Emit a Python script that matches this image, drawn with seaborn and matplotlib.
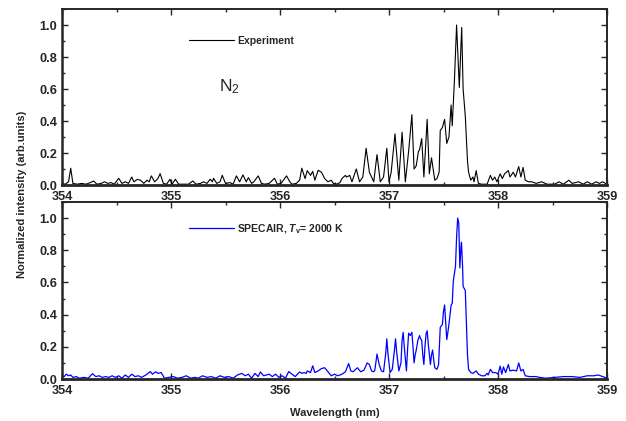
import matplotlib
matplotlib.use("Agg")
import matplotlib.pyplot as plt
import seaborn as sns
from matplotlib.ticker import MultipleLocator, FormatStrFormatter

# ---------------- data ----------------
wl_exp = [354.00, 354.03, 354.06, 354.08, 354.10, 354.14, 354.18, 354.22, 354.26, 354.29,
          354.32, 354.36, 354.39, 354.42, 354.45, 354.48, 354.52, 354.55, 354.58, 354.61,
          354.64, 354.66, 354.69, 354.72, 354.75, 354.78, 354.80, 354.82, 354.85, 354.88,
          354.90, 354.93, 354.96, 354.99, 355.01, 355.04, 355.07, 355.12, 355.16, 355.20,
          355.23, 355.27, 355.30, 355.33, 355.36, 355.38, 355.39, 355.42, 355.45, 355.47,
          355.50, 355.54, 355.57, 355.60, 355.63, 355.66, 355.69, 355.71, 355.74, 355.76,
          355.80, 355.83, 355.86, 355.90, 355.95, 355.975, 356.01, 356.06, 356.09, 356.11,
          356.15, 356.18, 356.20, 356.23, 356.25, 356.28, 356.30, 356.32, 356.35, 356.38,
          356.41, 356.44, 356.47, 356.49, 356.52, 356.55, 356.57, 356.60, 356.61, 356.64,
          356.66, 356.70, 356.73, 356.76, 356.79, 356.82, 356.84, 356.86, 356.89, 356.92,
          356.95, 356.98, 357.00, 357.02, 357.055, 357.09, 357.12, 357.15, 357.18, 357.21,
          357.23, 357.25, 357.27, 357.28, 357.30, 357.32, 357.35, 357.37, 357.39, 357.42,
          357.44, 357.46, 357.47, 357.49, 357.51, 357.53, 357.55, 357.57, 357.58, 357.60,
          357.62, 357.645, 357.667, 357.68, 357.70, 357.72, 357.73, 357.75, 357.77, 357.78,
          357.80, 357.82, 357.85, 357.90, 357.93, 357.95, 357.97, 357.99, 358.02, 358.04,
          358.06, 358.095, 358.11, 358.14, 358.16, 358.19, 358.21, 358.23, 358.25, 358.28,
          358.31, 358.35, 358.40, 358.45, 358.52, 358.56, 358.60, 358.65, 358.68, 358.74,
          358.78, 358.82, 358.86, 358.90, 358.93, 358.96, 359.00]
int_exp = [0.010, 0.005, 0.020, 0.105, 0.010, 0.005, 0.010, 0.005, 0.015, 0.025,
           0.005, 0.010, 0.020, 0.010, 0.015, 0.005, 0.042, 0.010, 0.020, 0.010,
           0.050, 0.020, 0.035, 0.030, 0.010, 0.030, 0.020, 0.057, 0.020, 0.040,
           0.071, 0.010, 0.005, 0.036, 0.005, 0.036, 0.005, 0.005, 0.005, 0.025,
           0.005, 0.010, 0.020, 0.010, 0.036, 0.020, 0.042, 0.010, 0.020, 0.061,
           0.010, 0.015, 0.005, 0.057, 0.020, 0.063, 0.020, 0.046, 0.010, 0.020,
           0.057, 0.010, 0.005, 0.010, 0.042, 0.005, 0.010, 0.057, 0.020, 0.005,
           0.010, 0.030, 0.105, 0.040, 0.090, 0.060, 0.085, 0.030, 0.092, 0.080,
           0.040, 0.020, 0.030, 0.010, 0.005, 0.015, 0.042, 0.060, 0.050, 0.060,
           0.020, 0.100, 0.020, 0.050, 0.230, 0.080, 0.050, 0.020, 0.190, 0.020,
           0.050, 0.230, 0.020, 0.080, 0.320, 0.030, 0.330, 0.020, 0.210, 0.440,
           0.100, 0.120, 0.210, 0.220, 0.290, 0.050, 0.410, 0.070, 0.170, 0.030,
           0.040, 0.080, 0.340, 0.360, 0.410, 0.260, 0.300, 0.500, 0.370, 0.650,
           1.000, 0.610, 0.985, 0.600, 0.430, 0.150, 0.080, 0.030, 0.050, 0.020,
           0.090, 0.010, 0.005, 0.005, 0.060, 0.030, 0.050, 0.020, 0.070, 0.040,
           0.070, 0.090, 0.050, 0.080, 0.050, 0.115, 0.050, 0.110, 0.030, 0.020,
           0.020, 0.010, 0.020, 0.005, 0.005, 0.020, 0.005, 0.030, 0.010, 0.020,
           0.005, 0.020, 0.005, 0.020, 0.010, 0.020, 0.005]

wl_sim = [354.00, 354.02, 354.04, 354.06, 354.08, 354.10, 354.13, 354.16, 354.20, 354.24,
          354.28, 354.31, 354.34, 354.37, 354.40, 354.43, 354.46, 354.49, 354.52, 354.55,
          354.58, 354.61, 354.64, 354.67, 354.70, 354.73, 354.77, 354.81, 354.83, 354.86,
          354.88, 354.91, 354.94, 354.98, 355.02, 355.06, 355.10, 355.14, 355.18, 355.22,
          355.25, 355.29, 355.33, 355.37, 355.41, 355.45, 355.49, 355.53, 355.57, 355.61,
          355.65, 355.68, 355.71, 355.74, 355.77, 355.80, 355.82, 355.85, 355.90, 355.93,
          355.96, 355.99, 356.02, 356.05, 356.08, 356.11, 356.14, 356.18, 356.20, 356.22,
          356.24, 356.25, 356.28, 356.30, 356.32, 356.35, 356.38, 356.41, 356.44, 356.47,
          356.50, 356.53, 356.57, 356.60, 356.63, 356.65, 356.67, 356.71, 356.74, 356.77,
          356.80, 356.82, 356.84, 356.86, 356.87, 356.89, 356.91, 356.93,
          356.95, 356.97, 356.98, 356.99, 357.01, 357.03, 357.05, 357.06, 357.07, 357.09,
          357.11, 357.12, 357.13, 357.14, 357.16, 357.17, 357.18, 357.195, 357.21, 357.22,
          357.23, 357.24, 357.25, 357.265, 357.28, 357.29, 357.30, 357.31, 357.32, 357.33,
          357.34, 357.35, 357.36, 357.38, 357.39, 357.40, 357.41, 357.42, 357.44, 357.455,
          357.465, 357.47, 357.49, 357.50, 357.51, 357.52, 357.53, 357.54, 357.55, 357.57,
          357.58, 357.59, 357.61, 357.62, 357.63, 357.64, 357.65, 357.66, 357.665, 357.675,
          357.68, 357.70, 357.71, 357.72, 357.73, 357.75, 357.77, 357.80, 357.82,
          357.85, 357.88, 357.90, 357.91, 357.93, 357.95, 357.98, 358.00, 358.02, 358.035,
          358.05, 358.07, 358.095, 358.11, 358.14, 358.17, 358.19, 358.21, 358.23, 358.25,
          358.29, 358.35, 358.38, 358.44, 358.52, 358.60, 358.68, 358.75, 358.82, 358.88,
          358.92, 358.96, 359.00]
int_sim = [0.020, 0.015, 0.030, 0.020, 0.025, 0.010, 0.015, 0.005, 0.010, 0.005,
           0.033, 0.015, 0.020, 0.010, 0.015, 0.010, 0.020, 0.010, 0.020, 0.005,
           0.025, 0.010, 0.030, 0.015, 0.020, 0.010, 0.025, 0.046, 0.030, 0.045,
           0.035, 0.040, 0.005, 0.010, 0.015, 0.005, 0.010, 0.020, 0.005, 0.010,
           0.005, 0.020, 0.010, 0.015, 0.005, 0.020, 0.010, 0.015, 0.005, 0.025,
           0.035, 0.020, 0.030, 0.005, 0.035, 0.015, 0.044, 0.020, 0.030, 0.015,
           0.030, 0.010, 0.020, 0.005, 0.046, 0.030, 0.015, 0.044, 0.035, 0.040,
           0.035, 0.050, 0.040, 0.082, 0.040, 0.050, 0.065, 0.070, 0.045, 0.020,
           0.030, 0.020, 0.030, 0.045, 0.096, 0.050, 0.045, 0.070, 0.045, 0.055,
           0.100, 0.090, 0.050, 0.045, 0.055, 0.155, 0.090, 0.050,
           0.045, 0.160, 0.250, 0.160, 0.040, 0.060, 0.180, 0.250, 0.170, 0.050,
           0.100, 0.240, 0.290, 0.200, 0.050, 0.180, 0.285, 0.270, 0.290, 0.200,
           0.100, 0.150, 0.180, 0.240, 0.270, 0.250, 0.240, 0.150, 0.090, 0.200,
           0.280, 0.300, 0.220, 0.090, 0.150, 0.180, 0.120, 0.070, 0.060, 0.090,
           0.250, 0.320, 0.340, 0.420, 0.460, 0.350, 0.245, 0.290, 0.340, 0.460,
           0.470, 0.610, 0.700, 0.880, 1.000, 0.970, 0.690, 0.820, 0.850, 0.700,
           0.575, 0.550, 0.340, 0.150, 0.060, 0.040, 0.035, 0.050, 0.030,
           0.020, 0.020, 0.035, 0.025, 0.060, 0.040, 0.040, 0.030, 0.080, 0.030,
           0.075, 0.040, 0.090, 0.050, 0.055, 0.050, 0.100, 0.050, 0.060, 0.020,
           0.015, 0.015, 0.010, 0.005, 0.010, 0.015, 0.015, 0.010, 0.020, 0.020,
           0.025, 0.015, 0.005]

x_ticks = [354, 355, 356, 357, 358, 359]
y_ticks = [0.0, 0.2, 0.4, 0.6, 0.8, 1.0]

label_exp = "Experiment"
label_sim = r"SPECAIR, $T_\mathregular{v}$= 2000 K"
species = r"N$_\mathregular{2}$"

# ---------------- style ----------------
sns.set_style("ticks")
plt.rcParams['font.family'] = ['Liberation Sans', 'DejaVu Sans']
plt.rcParams['mathtext.fontset'] = 'custom'
plt.rcParams['mathtext.it'] = 'Liberation Sans:italic:bold'
plt.rcParams['mathtext.rm'] = 'Liberation Sans:bold'

fig = plt.figure(figsize=(6.26, 4.21), dpi=100)
W, H = 626, 421
left, right = 62 / W, 607 / W
ax1 = fig.add_axes([left, 1 - 185 / H, right - left, (185 - 9) / H])
ax2 = fig.add_axes([left, 1 - 379 / H, right - left, (379 - 202) / H])

sns.lineplot(x=wl_exp, y=int_exp, ax=ax1, color="black", linewidth=0.8,
             label=label_exp, estimator=None, sort=False)
sns.lineplot(x=wl_sim, y=int_sim, ax=ax2, color="#0000ff", linewidth=0.9,
             label=label_sim, estimator=None, sort=False)

for ax, ly in ((ax1, 0.818), (ax2, 0.847)):
    ax.set_xlim(354, 359)
    ax.set_ylim(0, 1.1)
    ax.set_xticks(x_ticks)
    ax.set_yticks(y_ticks)
    ax.xaxis.set_minor_locator(MultipleLocator(0.5))
    ax.yaxis.set_minor_locator(MultipleLocator(0.1))
    ax.yaxis.set_major_formatter(FormatStrFormatter('%.1f'))
    ax.tick_params(which='both', direction='in', top=True, right=True,
                   width=1.0, labelsize=9.2)
    ax.tick_params(which='major', length=4)
    ax.tick_params(which='minor', length=2.5)
    ax.tick_params(axis='x', pad=4.5)
    ax.tick_params(axis='y', pad=3.5)
    for lab in ax.get_xticklabels() + ax.get_yticklabels():
        lab.set_fontweight('bold')
    for side in ['top', 'right', 'bottom', 'left']:
        ax.spines[side].set_visible(True)
        ax.spines[side].set_linewidth(1.4)
    ax.spines['bottom'].set_linewidth(2.0)
    ax.spines['left'].set_linewidth(1.8)
    ax.set_xlabel("")
    ax.set_ylabel("")
    ax.legend(loc='center left', bbox_to_anchor=((189 - 62) / 545, ly),
              frameon=False, borderaxespad=0, borderpad=0,
              handlelength=4.3, handletextpad=0.35,
              prop={'weight': 'bold', 'size': 7.5})

ax1.text(0.288, 0.53, species, transform=ax1.transAxes, fontsize=12.5,
         ha='left', va='baseline')

ax2.set_xlabel("Wavelength (nm)", fontweight='bold', fontsize=8)
ax2.xaxis.set_label_coords(0.5, -0.19)
ax2.xaxis.label.set_verticalalignment('center')

fig.text(22 / W, 1 - 194 / H, "Normalized intensity (arb.units)", rotation=90,
         ha='center', va='center', fontweight='bold', fontsize=8)

fig.savefig("out.png", dpi=100)
